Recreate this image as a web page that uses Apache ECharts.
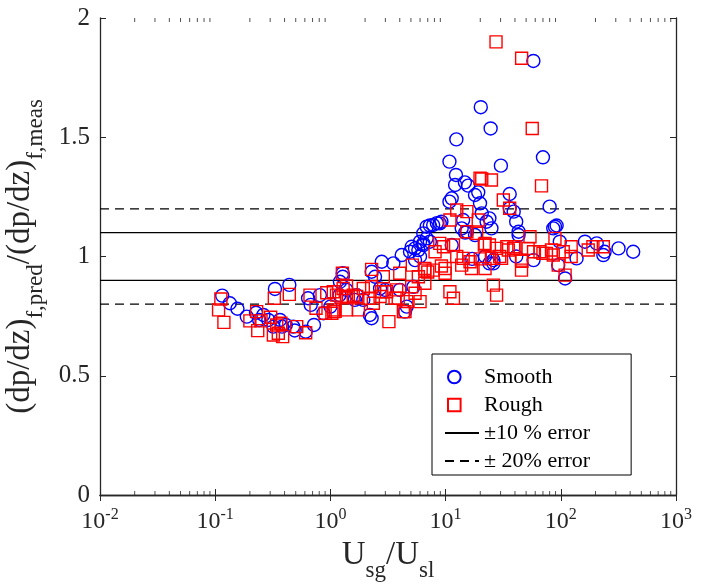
<!DOCTYPE html>
<html><head><meta charset="utf-8">
<script src="https://cdn.jsdelivr.net/npm/echarts@6/dist/echarts.min.js"></script>
<style>html,body{margin:0;padding:0;background:#fff}#c{width:709px;height:584px}</style>
</head><body><div id="c"></div>
<script>
// Smooth pipe data: x = Usg/Usl, y = pred/meas ratio
const smoothX = [0.115,0.134,0.156,0.188,0.226,0.241,0.262,0.289,0.32,0.33,0.365,0.38,0.41,0.44,0.476,0.49,0.61,0.64,0.675,0.72,0.81,0.87,1.0,1.2,1.21,1.28,1.28,1.38,1.63,1.69,1.93,2.2,2.28,2.28,2.44,2.7,2.79,2.98,3.52,4.0,4.16,4.44,4.6,4.91,5.08,5.25,5.43,5.43,5.8,6.0,6.0,6.4,6.4,6.4,6.85,6.85,7.3,7.3,7.8,8.4,8.9,9.2,10.8,10.8,11.3,11.3,12.1,12.3,12.4,13.8,14.2,14.7,14.8,15.3,15.7,17,18.0,18.0,19.2,19.9,20.2,20.6,22,22.7,24.0,24,24.6,25,26,26,30.2,36,36,39,41,41,43,43,57.8,58,70,80,86,89,92,95,98,109,137,162,205,234,240,317,425];
const smoothY = [0.836,0.804,0.781,0.748,0.764,0.734,0.755,0.734,0.706,0.864,0.734,0.706,0.713,0.881,0.706,0.69,0.685,0.825,0.797,0.713,0.838,0.762,0.79,0.838,0.894,0.93,0.915,0.86,0.818,0.838,0.818,0.755,0.936,0.741,0.915,0.866,0.978,0.86,0.971,0.86,1.006,0.769,0.79,1.02,1.041,0.873,1.034,0.985,1.027,1.062,1.0,1.097,1.055,1.048,1.125,1.076,1.13,1.062,1.132,1.14,1.139,1.146,1.23,1.398,1.048,1.244,1.30,1.342,1.491,1.118,1.153,1.311,1.10,1.104,1.297,0.99,1.09,1.258,1.269,1.223,1.626,1.181,1.0,1.146,1.16,0.971,1.537,1.118,0.971,0.985,1.381,1.262,1.202,1.188,1.146,1.0,1.104,1.09,1.82,0.985,1.416,1.209,1.118,1.125,1.13,0.964,1.062,0.908,0.992,1.062,1.055,1.006,1.02,1.034,1.02];
// Rough pipe data
const roughX = [0.112,0.107,0.119,0.20,0.229,0.234,0.25,0.303,0.32,0.326,0.353,0.372,0.385,0.342,0.44,0.51,0.61,0.665,0.75,0.93,0.9,1.06,1.1,1.25,1.27,1.38,1.29,1.06,1.07,1.38,1.38,1.75,1.58,2.28,2.28,2.79,3.22,3.76,4.0,3.88,4.44,5.14,5.08,5.43,6.6,7.0,8.1,7.8,8.9,9.2,9.9,10.9,10.9,11.7,12.5,12.5,15.3,15.3,16.3,16.8,19.2,18.6,20,21.7,24,25,26,27.7,27.7,31.7,36,34,40,45.6,46,27.4,45.7,56.5,68,20.6,25,19.9,54,89,234,190,173,123,105,123,70,58,45.6,86,95,109,30.6,1.43,1.69,1.93,2.2,2.7,3.08,3.64,4.6,6.0,2.36,4.3,1.03,1.13,2.88,5.8,6.6,13.8,14.2,9.6,11.7,22,22,29.5,35,39,52,66,75,83,6.6,9.9];
const roughY = [0.822,0.776,0.724,0.730,0.769,0.689,0.73,0.745,0.671,0.825,0.678,0.72,0.664,0.713,0.841,0.706,0.68,0.838,0.783,0.848,0.762,0.776,0.77,0.83,0.93,0.876,0.866,0.852,0.769,0.832,0.776,0.776,0.838,0.946,0.873,0.852,0.727,0.86,0.93,0.825,0.769,0.964,0.873,0.846,0.943,0.935,1.02,0.943,1.055,0.96,0.93,1.153,0.852,0.825,1.195,1.0,1.188,1.104,0.978,0.95,1.153,1.097,0.99,1.048,1.048,0.992,0.88,0.838,1.034,1.237,1.202,1.041,1.041,0.943,0.98,1.90,1.831,1.537,1.296,1.325,1.321,1.328,1.083,1.076,1.041,1.041,1.027,1.041,1.02,1.0,1.013,1.02,0.985,1.006,0.964,0.922,0.992,0.832,0.832,0.866,0.825,0.832,0.852,0.825,0.811,0.811,0.804,0.769,0.762,0.838,0.915,0.915,0.888,0.964,0.992,1.041,1.048,1.055,0.95,1.0,1.027,1.034,1.034,1.02,1.013,1.027,0.95,0.95];
// Reference lines
const xRange = [0.01, 1000];
const err10 = [0.9, 1.1];
const err20 = [0.8, 1.2];
const yTicks = [0, 0.5, 1, 1.5, 2];
const seriesNames = ['Smooth', 'Rough', '\u00b110 % error', '\u00b1 20% error'];

const minorTicks = [];
for (let d = -2; d <= 2; d++) for (let k = 2; k <= 9; k++) minorTicks.push(+(k * Math.pow(10, d)).toPrecision(3));

const FONT = 'Liberation Serif';
const AX = '#262626';
const zip = (a, b) => a.map((v, i) => [v, b[i]]);
const supMap = v => { const e = Math.round(Math.log10(v)); return '{b|10}{s|' + (e < 0 ? '-' + (-e) : e) + '}'; };

function lineSeries(name, yv, dashed) {
  return yv.map((y, i) => ({
    name: name, type: 'line', symbol: 'circle', showSymbol: false, silent: true, z: 1,
    data: [[xRange[0], y], [xRange[1], y]],
    lineStyle: { color: '#000', width: 1.3, type: dashed ? [9, 6] : 'solid' },
    itemStyle: { color: 'rgba(0,0,0,0)', borderWidth: 0 }
  }));
}

const chart = echarts.init(document.getElementById('c'), null, { renderer: 'canvas' });
const xCommon = {
  type: 'log', logBase: 10, min: xRange[0], max: xRange[1], splitNumber: 5,
  axisLine: { show: true, lineStyle: { color: AX, width: 1.3 } },
  axisTick: { show: true, inside: true, length: 6, lineStyle: { color: AX, width: 1 } },
  splitLine: { show: false }, minorTick: { show: false }
};
const yCommon = {
  type: 'value', min: 0, max: 2, interval: 0.5,
  axisLine: { show: true, lineStyle: { color: AX, width: 1.3 } },
  axisTick: { show: true, inside: true, length: 6, lineStyle: { color: AX, width: 1 } },
  splitLine: { show: false }
};
const tickSym = (yv, off) => ({
  type: 'scatter', silent: true, xAxisIndex: 0, yAxisIndex: 0, z: 0,
  symbol: 'rect', symbolSize: [1, 4], symbolOffset: [0, off],
  itemStyle: { color: AX }, data: minorTicks.map(v => [v, yv]), clip: false
});
const nameRich = {
  n: { fontFamily: FONT, fontSize: 33, color: AX },
  s: { fontFamily: FONT, fontSize: 23, color: AX, padding: [32, 0, 0, 0] }
};

chart.setOption({
  animation: false,
  backgroundColor: '#fff',
  grid: { left: 100, right: 33, top: 18, bottom: 89, outerBoundsMode: 'none', containLabel: false },
  xAxis: [
    Object.assign({}, xCommon, {
      position: 'bottom',
      name: '{n|U}{s|sg}{n|/U}{s|sl}', nameLocation: 'middle', nameGap: 26,
      nameTextStyle: { rich: nameRich },
      axisLabel: { margin: 12, formatter: supMap, rich: {
        b: { fontFamily: FONT, fontSize: 24, color: AX },
        s: { fontFamily: FONT, fontSize: 16, color: AX, padding: [0, 0, 14, 0] } } }
    }),
    Object.assign({}, xCommon, { position: 'top', axisLabel: { show: false } })
  ],
  yAxis: [
    Object.assign({}, yCommon, {
      position: 'left',
      name: '{n|(dp/dz)}{s|f,pred}{n|/(dp/dz)}{s|f,meas}', nameLocation: 'middle', nameGap: 35, nameRotate: 90,
      nameTextStyle: { rich: nameRich },
      axisLabel: { margin: 10, fontFamily: FONT, fontSize: 25, color: AX,
        formatter: v => (yTicks.indexOf(v) >= 0 ? String(v) : '') }
    }),
    Object.assign({}, yCommon, { position: 'right', axisLabel: { show: false } })
  ],
  legend: {
    orient: 'vertical', left: 432, top: 354,
    data: [
      { name: seriesNames[0], icon: 'path://M0,0 M34,14 M15.6,7 A6.3,6.3 0 1 1 3,7 A6.3,6.3 0 1 1 15.6,7 Z' },
      { name: seriesNames[1], icon: 'path://M0,0 M34,14 M3,0.8H15.6V13.2H3Z' },
      { name: seriesNames[2] },
      { name: seriesNames[3] }
    ],
    backgroundColor: '#fff', borderColor: '#000', borderWidth: 1,
    padding: [12, 41, 3, 12], itemGap: 6, itemWidth: 34, itemHeight: 14,
    textStyle: { fontFamily: FONT, fontSize: 22, color: '#000' }
  },
  series: [
    ...lineSeries(seriesNames[2], err10, false),
    ...lineSeries(seriesNames[3], err20, true),
    tickSym(0, -2), tickSym(2, 2),
    { name: seriesNames[0], type: 'scatter', z: 3, symbol: 'circle', symbolSize: 13,
      itemStyle: { color: 'rgba(0,0,0,0)', borderColor: '#0000ff', borderWidth: 1.4, opacity: 1 },
      data: zip(smoothX, smoothY) },
    { name: seriesNames[1], type: 'scatter', z: 4, symbol: 'rect', symbolSize: 12,
      itemStyle: { color: 'rgba(0,0,0,0)', borderColor: '#ff0000', borderWidth: 1.4, opacity: 1 },
      data: zip(roughX, roughY) }
  ]
});
</script></body></html>
